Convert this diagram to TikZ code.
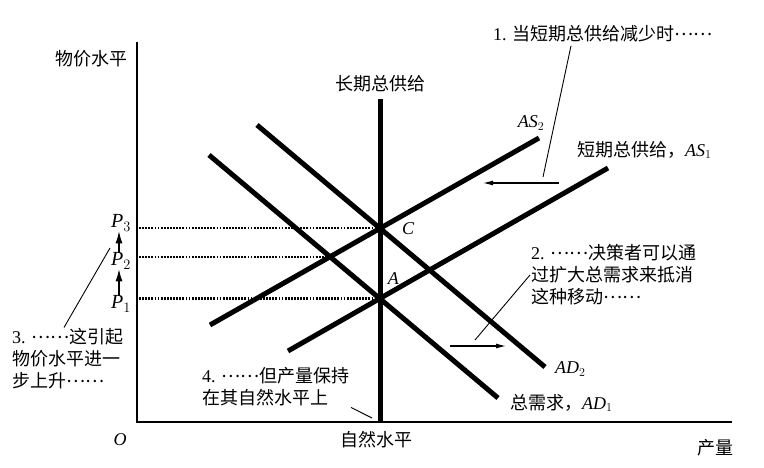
\documentclass[tikz,border=0pt]{standalone}
\usepackage{fontspec}
\setmainfont{Liberation Serif}
\newfontfamily\cjk{Noto Sans CJK SC}
\newcommand\zhdots{\raisebox{0.3em}{……}}
\usepackage{tikz}
\usetikzlibrary{arrows.meta, positioning}

\begin{document}
\begin{tikzpicture}[x=1pt, y=-1pt, font=\fontsize{18}{22}\selectfont,
    axisline/.style={line width=2.6pt},
    curve/.style={line width=5pt},
    leader/.style={line width=0.9pt},
    dotline/.style={line width=2.2pt, dash pattern=on 1.8pt off 1.3pt},
    shiftarrow/.style={line width=1.1pt, -{Latex[length=10pt, width=5pt]}},
    pricearrow/.style={line width=1.1pt, -{Latex[length=12pt, width=7pt]}},
    dot/.style={circle, fill, inner sep=0pt, minimum size=9pt},
    plabel/.style={inner sep=0pt, font=\fontsize{20}{24}\selectfont},
    note/.style={align=left, inner sep=1pt, anchor=west}]

    \useasboundingbox (0,0) rectangle (764,468);

    % Vẽ hai trục tọa độ
    \coordinate (O) at (137,422);
    \coordinate (ytop) at (137,42);
    \coordinate (xend) at (732,422);
    \draw[axisline] (ytop) -- (O) -- (xend);
    \node (ylabel) at (91,59) {\cjk 物价水平};
    \node (olabel) at (120,440) {\textit{O}};
    \node (xlabel) at (715,448) {\cjk 产量};

    % Các mức giá P1, P2, P3 trên trục tung
    \coordinate (p1) at (139,298.5);
    \coordinate (p2) at (139,257);
    \coordinate (p3) at (139,228.4);
    \coordinate (ptB) at (330,257);
    \node[dot] (ptA) at (380,298.5) {};
    \node[dot] (ptC) at (380,228.4) {};
    \draw[dotline] (p1) -- (ptA.center);
    \draw[dotline] (p2) -- (ptB);
    \draw[dotline] (p3) -- (ptC.center);

    % Đường tổng cung dài hạn
    \coordinate (lrasT) at (380,99);
    \coordinate (lrasB) at (380,422);
    \draw[curve] (lrasT) -- (lrasB);
    \node (lraslabel) at (380,84) {\cjk 长期总供给};
    \node (natlabel) at (376,440) {\cjk 自然水平};

    % Tổng cung ngắn hạn AS1, AS2
    \coordinate (as1a) at (288,351);
    \coordinate (as1b) at (608,168);
    \coordinate (as2a) at (210,325);
    \coordinate (as2b) at (539,138);
    \draw[curve] (as1a) -- (as1b);
    \draw[curve] (as2a) -- (as2b);
    \node (as2label) at (531,123) {$\mathit{AS}_2$};
    \node[anchor=west, inner sep=0pt] (as1label) at (577,150) {\cjk 短期总供给，\normalfont$\mathit{AS}_1$};

    % Tổng cầu AD1, AD2
    \coordinate (ad1a) at (209,155);
    \coordinate (ad1b) at (498,398);
    \coordinate (ad2a) at (257,125);
    \coordinate (ad2b) at (545,367);
    \draw[curve] (ad1a) -- (ad1b);
    \draw[curve] (ad2a) -- (ad2b);
    \node[anchor=west, inner sep=0pt] (ad2label) at (555,369) {$\mathit{AD}_2$};
    \node[anchor=west, inner sep=0pt] (ad1label) at (510,403) {\cjk 总需求，\normalfont$\mathit{AD}_1$};

    % Nhãn điểm cân bằng A và C
    \node[above right=7pt and 1pt of ptA] (alabel) {$\mathit{A}$};
    \node[right=14pt of ptC] (clabel) {$\mathit{C}$};

    % Nhãn P1, P2, P3 và mũi tên đi lên
    \node[plabel] (lp1) at (121,304) {$\mathit{P}_1$};
    \node[plabel] (lp2) at (121,261) {$\mathit{P}_2$};
    \node[plabel] (lp3) at (121,223) {$\mathit{P}_3$};
    \draw[pricearrow] ([xshift=-2pt]lp1.north) -- ([xshift=-2pt]lp2.south);
    \draw[pricearrow] ([xshift=-2pt]lp2.north) -- ([xshift=-2pt]lp3.south);

    % Chú thích 1: cung ngắn hạn giảm
    \node (note1) at (603,34) {1. {\cjk 当短期总供给减少时\zhdots}};
    \coordinate (n1tip) at (543,177);
    \draw[leader] ([xshift=-32pt]note1.south) -- (n1tip);
    \coordinate (lshiftT) at (559,183);
    \coordinate (lshiftH) at (483,183);
    \draw[shiftarrow] (lshiftT) -- (lshiftH);

    % Chú thích 2: mở rộng tổng cầu
    \node[note] (note2) at (530,275) {2. {\cjk \zhdots 决策者可以通}\\{\cjk 过扩大总需求来抵消}\\{\cjk 这种移动\zhdots}};
    \coordinate (n2tip) at (475,340);
    \draw[leader] (note2.west) -- (n2tip);
    \coordinate (rshiftT) at (450,346);
    \coordinate (rshiftH) at (506,346);
    \draw[shiftarrow] (rshiftT) -- (rshiftH);

    % Chú thích 3: giá tăng thêm
    \node[note] (note3) at (11,359) {3. {\cjk \zhdots 这引起}\\{\cjk 物价水平进一}\\{\cjk 步上升\zhdots}};
    \coordinate (n3tip) at (110,248);
    \draw[leader] ([xshift=-4pt]note3.north) -- (n3tip);

    % Chú thích 4: sản lượng giữ ở mức tự nhiên
    \node[note] (note4) at (201,387) {4. {\cjk \zhdots 但产量保持}\\{\cjk 在其自然水平上}};
    \coordinate (n4tip) at (372,418);
    \draw[leader] (note4.south east) -- (n4tip);

\end{tikzpicture}
\end{document}
